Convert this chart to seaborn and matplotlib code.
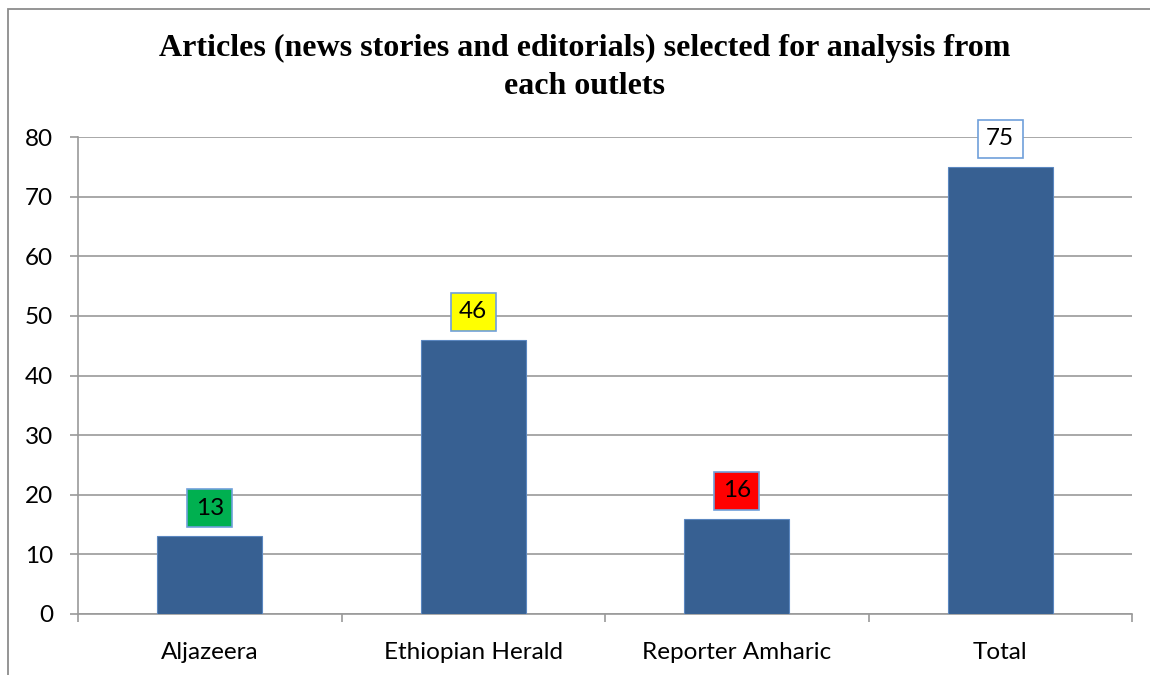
import matplotlib
matplotlib.use("Agg")
import matplotlib.pyplot as plt
import seaborn as sns
import pandas as pd
from matplotlib.patches import Rectangle

categories = ["Aljazeera", "Ethiopian Herald", "Reporter Amharic", "Total"]
values = [13, 46, 16, 75]
label_colors = ["#00B050", "#FFFF00", "#FF0000", "#FFFFFF"]
yticks = [0, 10, 20, 30, 40, 50, 60, 70, 80]
title = "Articles (news stories and editorials) selected for analysis from\neach outlets"

sns.set_theme(style="white")
plt.rcParams["font.family"] = ["Lato", "DejaVu Sans"]
plt.rcParams["text.color"] = "black"

df = pd.DataFrame({"outlet": categories, "count": values})

fig = plt.figure(figsize=(11.5, 6.75), dpi=100)
ax = fig.add_axes([78 / 1150, 1 - 614 / 675, (1132 - 78) / 1150, (614 - 137) / 675])

sns.barplot(data=df, x="outlet", y="count", color="#376092", width=0.4,
            saturation=1, edgecolor="#5B87C0", linewidth=0.8, ax=ax, zorder=3)

ax.set_ylim(0, 80)
ax.set_xlim(-0.5, 3.5)
ax.set_yticks(yticks)
ax.set_yticklabels([str(t) for t in yticks])
ax.yaxis.grid(True, color="#9a9a9a", linewidth=1.2, zorder=0)
ax.set_axisbelow(True)
ax.set_xlabel("")
ax.set_ylabel("")

for s in ["top", "right"]:
    ax.spines[s].set_visible(False)
for s in ["left", "bottom"]:
    ax.spines[s].set_color("#9a9a9a")
    ax.spines[s].set_linewidth(1.2)

ax.tick_params(axis="y", which="major", length=6, width=1.2, color="#9a9a9a",
               pad=12, labelsize=17.5, labelcolor="black", left=True)
ax.set_xticks(range(len(categories)))
ax.set_xticklabels(categories)
ax.tick_params(axis="x", which="major", length=0, pad=20, labelsize=17.5, labelcolor="black")
ax.set_xticks([-0.5, 0.5, 1.5, 2.5, 3.5], minor=True)
ax.tick_params(axis="x", which="minor", length=6, width=1.2, color="#9a9a9a", bottom=True)

for i, (v, c) in enumerate(zip(values, label_colors)):
    ax.annotate(str(v), xy=(i, v), xytext=(0, 28), textcoords="offset pixels",
                ha="center", va="center", fontsize=17.5, color="black", zorder=5,
                bbox=dict(boxstyle="square,pad=0.35", facecolor=c,
                          edgecolor="#6FA0DA", linewidth=1.2))

fig.text(585 / 1150, 1 - 67.5 / 675, title, ha="center", va="center", color="black",
         fontsize=23, fontweight="bold", family=["Liberation Serif", "DejaVu Serif"],
         linespacing=1.4)

border = Rectangle((8 / 1150, -0.1), 1.2, 1 - 9 / 675 + 0.1, transform=fig.transFigure,
                   fill=False, edgecolor="#8c8c8c", linewidth=1.3)
fig.add_artist(border)

fig.savefig("out.png", dpi=100)
